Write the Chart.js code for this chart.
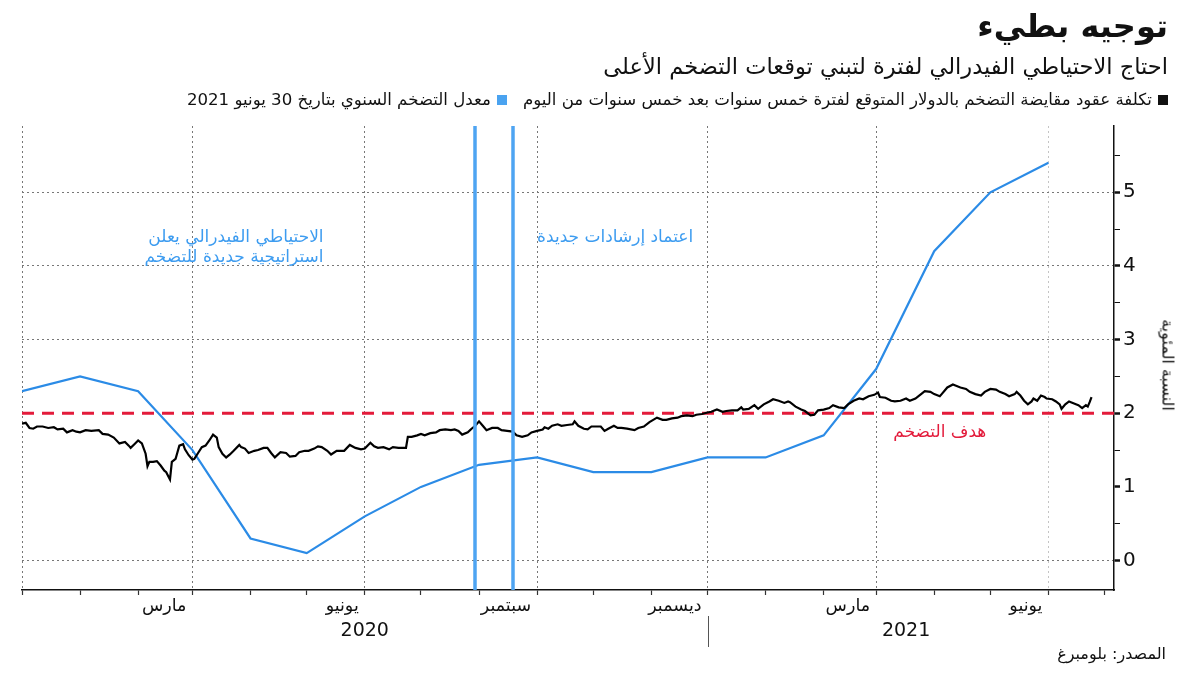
<!DOCTYPE html>
<html lang="ar">
<head>
<meta charset="utf-8">
<script src="https://cdn.jsdelivr.net/npm/chart.js@4/dist/chart.umd.min.js"></script>
<style>
  html, body { margin: 0; padding: 0; background: #fff; }
  body { width: 1200px; height: 675px; position: relative; overflow: hidden; font-family: "DejaVu Sans", sans-serif; color: #111; }
  #chart { position: absolute; left: 0; top: 0; }
  .txt { position: absolute; right: 32px; direction: rtl; white-space: nowrap; }
  #title { top: 7px; font-size: 32px; font-weight: bold; }
  #subtitle { top: 53px; font-size: 22.5px; }
  #legend { top: 90px; font-size: 16.6px; }
  #legend .sq { display: inline-block; width: 10px; height: 10px; margin-left: 6px; vertical-align: 0px; }
  #source { top: 644px; right: 34px; font-size: 16px; }
  #ytitle { position: absolute; left: 1168px; top: 365px; font-size: 16px; transform: translate(-50%, -50%) rotate(90deg); white-space: nowrap; direction: rtl; }
</style>
</head>
<body>
<canvas id="chart" width="1200" height="675"></canvas>
<div id="title" class="txt">توجيه بطيء</div>
<div id="subtitle" class="txt">احتاج الاحتياطي الفيدرالي لفترة لتبني توقعات التضخم الأعلى</div>
<div id="legend" class="txt"><span class="sq" style="background:#111"></span>تكلفة عقود مقايضة التضخم بالدولار المتوقع لفترة خمس سنوات بعد خمس سنوات من اليوم<span class="sq" style="background:#4aa3f0; margin-right:16px"></span>معدل التضخم السنوي بتاريخ 30 يونيو 2021</div>
<div id="source" class="txt">المصدر: بلومبرغ</div>
<div id="ytitle">النسبة المئوية</div>
<script>
// x values are days counted from 1 Dec 2019
const monthStarts = [0, 31, 62, 91, 122, 152, 183, 213, 244, 275, 305, 336, 366, 397, 428, 456, 487, 517, 548, 578];
const monthLabels = ['', '', '', 'مارس', '', '', 'يونيو', '', '', 'سبتمبر', '', '', 'ديسمبر', '', '', 'مارس', '', '', 'يونيو', ''];
const yearLabels = ['2020', '2021'];
const yearCenters = [183, 472];
const yearSplit = 366;

const yTicks = [0, 0.5, 1, 1.5, 2, 2.5, 3, 3.5, 4, 4.5, 5, 5.5];
const yGridValues = [0, 3, 4, 5];

// 5y5y USD inflation swap
const swapDays = [
  0, 2, 4, 6, 8, 11, 14, 17, 19, 22, 24, 27, 29, 31, 34, 37, 41, 43, 46, 49,
  52, 55, 57, 58, 60, 62, 64, 66, 67, 68, 70, 72, 74, 76, 77, 79, 80, 82, 83, 84,
  86, 87, 89, 91, 92, 94, 96, 98, 100, 102, 104, 105, 107, 109, 111, 113, 116, 117, 119, 121,
  124, 126, 129, 131, 133, 135, 138, 141, 143, 146, 148, 151, 153, 156, 158, 160, 163, 165, 168, 172,
  175, 178, 181, 183, 186, 188, 190, 193, 196, 198, 201, 205, 206, 208, 211, 213, 215, 218, 221, 223,
  226, 229, 231, 233, 235, 238, 240, 242, 244, 246, 248, 251, 254, 256, 259, 262, 264, 267, 270, 272,
  275, 278, 279, 281, 283, 286, 288, 291, 294, 295, 297, 300, 302, 304, 309, 311, 313, 316, 318, 320,
  323, 327, 329, 332, 335, 337, 339, 342, 344, 347, 350, 352, 355, 358, 360, 363, 366, 368, 371, 374,
  376, 379, 382, 384, 385, 388, 391, 393, 396, 399, 401, 404, 407, 409, 410, 413, 416, 418, 421, 423,
  425, 428, 431, 433, 436, 439, 441, 444, 447, 449, 452, 455, 457, 458, 461, 464, 466, 469, 472, 474,
  477, 480, 482, 485, 487, 490, 491, 494, 497, 498, 501, 504, 506, 509, 512, 514, 517, 520, 522, 525,
  527, 530, 531, 533, 535, 537, 539, 540, 542, 544, 546, 547, 550, 552, 554, 555, 557, 559, 561, 563,
  564, 566, 568, 569, 570, 571
];
const swapValues = [
  1.86, 1.87, 1.80, 1.79, 1.82, 1.82, 1.80, 1.81, 1.78, 1.79, 1.74, 1.77, 1.75, 1.74, 1.77, 1.76, 1.77, 1.72, 1.71, 1.67,
  1.59, 1.61, 1.56, 1.53, 1.58, 1.63, 1.59, 1.45, 1.28, 1.34, 1.34, 1.35, 1.29, 1.22, 1.20, 1.10, 1.34, 1.38, 1.47, 1.56,
  1.58, 1.51, 1.43, 1.37, 1.38, 1.46, 1.54, 1.56, 1.63, 1.71, 1.67, 1.54, 1.45, 1.40, 1.44, 1.49, 1.57, 1.54, 1.52, 1.46,
  1.49, 1.50, 1.53, 1.53, 1.46, 1.40, 1.47, 1.46, 1.41, 1.42, 1.47, 1.49, 1.49, 1.52, 1.55, 1.54, 1.49, 1.44, 1.49, 1.49,
  1.57, 1.53, 1.51, 1.52, 1.60, 1.55, 1.53, 1.54, 1.51, 1.54, 1.53, 1.53, 1.68, 1.68, 1.70, 1.72, 1.70, 1.73, 1.74, 1.77,
  1.78, 1.77, 1.78, 1.76, 1.71, 1.74, 1.79, 1.83, 1.89, 1.83, 1.77, 1.80, 1.80, 1.77, 1.76, 1.75, 1.70, 1.68, 1.70, 1.74,
  1.76, 1.78, 1.81, 1.79, 1.83, 1.85, 1.83, 1.84, 1.85, 1.89, 1.83, 1.79, 1.78, 1.82, 1.82, 1.76, 1.79, 1.83, 1.80, 1.80,
  1.79, 1.77, 1.80, 1.82, 1.88, 1.91, 1.94, 1.91, 1.91, 1.93, 1.94, 1.96, 1.97, 1.96, 1.98, 1.99, 2.01, 2.02, 2.05, 2.02,
  2.03, 2.04, 2.04, 2.08, 2.05, 2.06, 2.11, 2.06, 2.12, 2.16, 2.19, 2.17, 2.14, 2.16, 2.15, 2.09, 2.05, 2.03, 1.97, 1.98,
  2.04, 2.05, 2.07, 2.11, 2.08, 2.07, 2.12, 2.17, 2.20, 2.19, 2.23, 2.25, 2.28, 2.22, 2.21, 2.17, 2.16, 2.17, 2.20, 2.17,
  2.20, 2.26, 2.30, 2.29, 2.26, 2.23, 2.26, 2.35, 2.39, 2.38, 2.35, 2.33, 2.29, 2.26, 2.24, 2.29, 2.33, 2.32, 2.29, 2.26,
  2.23, 2.26, 2.29, 2.24, 2.17, 2.12, 2.16, 2.20, 2.17, 2.24, 2.22, 2.20, 2.19, 2.16, 2.12, 2.06, 2.12, 2.16, 2.14, 2.12,
  2.11, 2.07, 2.11, 2.09, 2.15, 2.22
];

// CPI year over year, monthly
const cpiDays = [0, 31, 62, 91, 122, 152, 183, 213, 244, 275, 305, 336, 366, 397, 428, 456, 487, 517, 548];
const cpiValues = [2.3, 2.5, 2.3, 1.5, 0.3, 0.1, 0.6, 1.0, 1.3, 1.4, 1.2, 1.2, 1.4, 1.4, 1.7, 2.6, 4.2, 5.0, 5.4];

const targetValue = 2;
const targetLabel = 'هدف التضخم';
const targetLabelAt = [490, 1.74];

const eventDays = [242, 262];
const eventNotes = [
  { lines: ['الاحتياطي الفيدرالي يعلن', 'استراتيجية جديدة للتضخم'], day: 161, value: 4.39, align: 'right' },
  { lines: ['اعتماد إرشادات جديدة'], day: 275, value: 4.39, align: 'left' }
];

const xMin = 0, xMax = 583;
const yMin = -0.4, yMax = 5.9;

const FONT = '"DejaVu Sans", sans-serif';

const overlayPlugin = {
  id: 'overlay',
  afterDatasetsDraw(chart) {
    const { ctx, chartArea, scales: { x, y } } = chart;
    ctx.save();
    ctx.strokeStyle = '#4ea4f2';
    ctx.lineWidth = 3.5;
    eventDays.forEach(d => {
      const px = Math.round(x.getPixelForValue(d));
      ctx.beginPath();
      ctx.moveTo(px, chartArea.top);
      ctx.lineTo(px, chartArea.bottom);
      ctx.stroke();
    });

    ctx.direction = 'rtl';
    ctx.textBaseline = 'middle';
    ctx.font = '17px ' + FONT;
    ctx.fillStyle = '#3d9cf0';
    eventNotes.forEach(n => {
      ctx.textAlign = n.align;
      const px = x.getPixelForValue(n.day);
      const py = y.getPixelForValue(n.value);
      n.lines.forEach((t, i) => ctx.fillText(t, px, py + i * 20));
    });

    ctx.fillStyle = '#e31b3b';
    ctx.textAlign = 'center';
    ctx.fillText(targetLabel, x.getPixelForValue(targetLabelAt[0]), y.getPixelForValue(targetLabelAt[1]));
    ctx.restore();
  },
  afterDraw(chart) {
    const { ctx, chartArea, scales: { x } } = chart;
    ctx.save();
    ctx.fillStyle = '#111';
    ctx.font = '19px ' + FONT;
    ctx.textAlign = 'center';
    ctx.textBaseline = 'middle';
    yearLabels.forEach((t, i) => ctx.fillText(t, x.getPixelForValue(yearCenters[i]), chartArea.bottom + 41));
    const sx = Math.round(x.getPixelForValue(yearSplit)) + 0.5;
    ctx.strokeStyle = '#555';
    ctx.lineWidth = 1;
    ctx.beginPath();
    ctx.moveTo(sx, chartArea.bottom + 26);
    ctx.lineTo(sx, chartArea.bottom + 57);
    ctx.stroke();
    ctx.restore();
  }
};

new Chart(document.getElementById('chart'), {
  type: 'line',
  data: {
    datasets: [
      {
        data: swapDays.map((d, i) => ({ x: d, y: swapValues[i] })),
        borderColor: '#000',
        borderWidth: 2.2,
        pointRadius: 0,
        tension: 0
      },
      {
        data: cpiDays.map((d, i) => ({ x: d, y: cpiValues[i] })),
        borderColor: '#2b8be6',
        borderWidth: 2.2,
        pointRadius: 0,
        tension: 0
      },
      {
        data: [{ x: xMin, y: targetValue }, { x: xMax, y: targetValue }],
        borderColor: '#e31b3b',
        borderWidth: 3,
        borderDash: [12, 8],
        pointRadius: 0
      }
    ]
  },
  options: {
    responsive: false,
    devicePixelRatio: 1,
    animation: false,
    layout: { padding: { left: 22, top: 126, right: 0, bottom: 0 } },
    plugins: { legend: { display: false }, tooltip: { enabled: false } },
    scales: {
      x: {
        type: 'linear',
        min: xMin,
        max: xMax,
        afterBuildTicks: s => { s.ticks = monthStarts.map(v => ({ value: v })); },
        afterFit: s => { s.height = 85; },
        ticks: {
          autoSkip: false,
          maxRotation: 0,
          align: 'end',
          labelOffset: -6,
          padding: 1,
          color: '#111',
          font: { family: FONT, size: 17.5 },
          callback: v => monthLabels[monthStarts.indexOf(v)] || ''
        },
        grid: {
          color: c => {
            const i = monthStarts.indexOf(c.tick ? c.tick.value : -1);
            if (i < 0 || i % 3 !== 0) return 'rgba(0,0,0,0)';
            return i === 18 ? '#c4c4c4' : '#777';
          },
          lineWidth: 1,
          tickColor: '#333',
          tickLength: 5,
          tickWidth: 1.2
        },
        border: { display: true, color: '#111', width: 1.5, dash: [2, 3] }
      },
      y: {
        position: 'right',
        min: yMin,
        max: yMax,
        afterBuildTicks: s => { s.ticks = yTicks.map(v => ({ value: v })); },
        afterFit: s => { s.width = 86; },
        ticks: {
          padding: 3,
          color: '#111',
          font: { family: FONT, size: 20 },
          callback: v => Number.isInteger(v) ? String(v) : ''
        },
        grid: {
          color: c => (c.tick && yGridValues.includes(c.tick.value)) ? '#777' : 'rgba(0,0,0,0)',
          tickColor: '#111',
          tickLength: 6,
          tickWidth: c => (c.tick && Number.isInteger(c.tick.value)) ? 2.5 : 1
        },
        border: { display: true, color: '#111', width: 1.5, dash: [2, 3] }
      }
    }
  },
  plugins: [overlayPlugin]
});
</script>
</body>
</html>
